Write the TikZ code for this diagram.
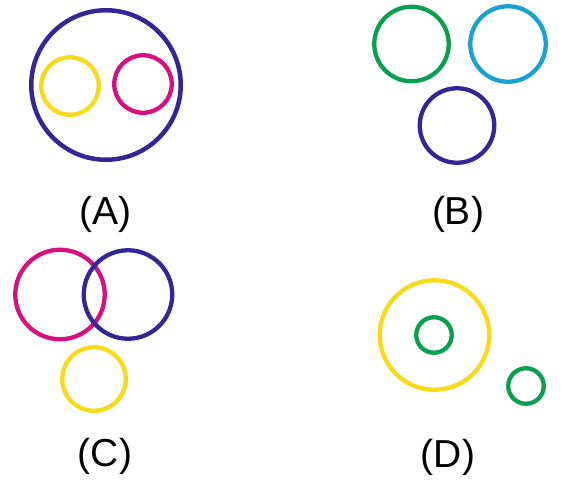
\documentclass[tikz,border=0pt]{standalone}
\usepackage{fontspec}
\setmainfont{Liberation Sans}
\definecolor{cpurple}{RGB}{52,38,148}
\definecolor{cyellow}{RGB}{249,218,22}
\definecolor{cmagenta}{RGB}{214,16,126}
\definecolor{cgreen}{RGB}{10,160,80}
\definecolor{ccyan}{RGB}{24,162,212}
\begin{document}
\begin{tikzpicture}[x=1pt,y=-1pt,
  ring/.style={circle,draw=#1,line width=4.3pt,inner sep=0pt},
  lbl/.style={font=\fontsize{39}{41}\selectfont,inner sep=0pt,anchor=center}]
\useasboundingbox (0,0) rectangle (573,485);
% (A)
\node[ring=cpurple,line width=4.5pt,minimum size=149.5pt] (a1) at (106,85) {};
\node[ring=cyellow,minimum size=57.5pt] (a2) at (70,86) {};
\node[ring=cmagenta,minimum size=57.5pt] (a3) at (143,84) {};
\node[lbl] (la) at (105.5,214) {(A)};
% (B)
\node[ring=cgreen,minimum size=74.5pt] (b1) at (411.5,44) {};
\node[ring=ccyan,minimum size=75.5pt] (b2) at (508,44) {};
\node[ring=cpurple,minimum size=74.5pt] (b3) at (457,125.5) {};
\node[lbl] (lb) at (458,214) {(B)};
% (C)
\node[ring=cmagenta,minimum size=89.5pt] (c1) at (60,294.5) {};
\node[ring=cpurple,minimum size=88.5pt] (c2) at (128,294.5) {};
\node[ring=cyellow,minimum size=63.5pt] (c3) at (94,379) {};
\node[lbl] (lc) at (105,456) {(C)};
% (D)
\node[ring=cyellow,minimum size=109.5pt] (d1) at (434.5,335) {};
\node[ring=cgreen,minimum size=35.5pt] (d2) at (434,335) {};
\node[ring=cgreen,minimum size=35.5pt] (d3) at (526,386) {};
\node[lbl] (ld) at (448,457) {(D)};
\end{tikzpicture}
\end{document}
